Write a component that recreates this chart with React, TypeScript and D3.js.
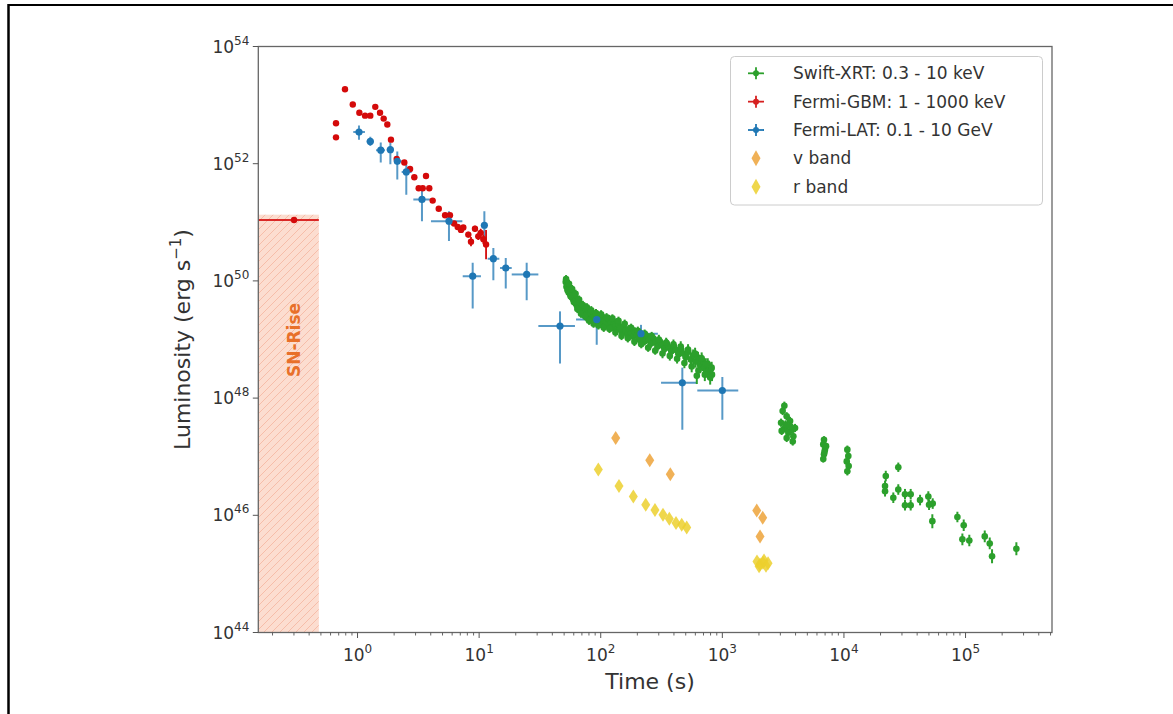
import React from "react";
import * as d3 from "d3";

// All values are log10: [log10 t (s), log10 L (erg/s), ...]

// Fermi-GBM 1 - 1000 keV : [logT, logL, dLogL]
const gbm: [number, number, number][] = [
  [-0.177, 52.69, 0.02], [-0.177, 52.45, 0.02], [-0.103, 53.27, 0.02], [-0.039, 53.01, 0.02],
  [0.015, 52.87, 0.02], [0.062, 52.82, 0.02], [0.105, 52.82, 0.02], [0.146, 52.97, 0.02],
  [0.185, 52.87, 0.02], [0.215, 52.77, 0.02], [0.245, 52.67, 0.02], [0.275, 52.41, 0.03],
  [0.322, 52.08, 0.03], [0.385, 52.02, 0.03], [0.432, 51.91, 0.03], [0.467, 51.77, 0.03],
  [0.563, 51.79, 0.03], [0.503, 51.58, 0.03], [0.536, 51.58, 0.03], [0.590, 51.58, 0.03],
  [0.618, 51.37, 0.03], [0.668, 51.23, 0.03], [0.720, 51.12, 0.03], [0.760, 51.12, 0.03],
  [0.794, 50.98, 0.04], [0.824, 50.92, 0.04], [0.851, 50.87, 0.05], [0.870, 50.91, 0.04],
  [0.911, 50.79, 0.05], [0.933, 50.67, 0.08], [0.966, 50.89, 0.05], [0.993, 50.76, 0.06],
  [1.013, 50.82, 0.07], [1.035, 50.71, 0.08], [1.057, 50.62, 0.25],
];
// GBM integrated point over the SN-rise window: [logT, logL, logT_lo, logT_hi]
const gbmRise: [number, number, number, number] = [-0.522, 51.04, -1.2, -0.318];

// Fermi-LAT 0.1 - 10 GeV : [logT, logL, logT_lo, logT_hi, logL_lo, logL_hi]
const lat: [number, number, number, number, number, number][] = [
  [0.012, 52.54, -0.035, 0.061, 52.41, 52.65],
  [0.105, 52.38, 0.075, 0.135, 52.30, 52.46],
  [0.191, 52.23, 0.152, 0.226, 52.02, 52.36],
  [0.270, 52.24, 0.240, 0.300, 51.99, 52.36],
  [0.327, 52.04, 0.300, 0.363, 51.73, 52.21],
  [0.401, 51.86, 0.363, 0.445, 51.47, 51.98],
  [0.530, 51.39, 0.459, 0.596, 51.02, 51.56],
  [0.752, 51.02, 0.604, 0.862, 50.68, 51.19],
  [1.043, 50.95, 1.020, 1.065, 50.62, 51.19],
  [0.947, 50.08, 0.865, 1.015, 49.53, 50.31],
  [1.117, 50.38, 1.070, 1.166, 50.01, 50.56],
  [1.219, 50.22, 1.172, 1.268, 49.87, 50.39],
  [1.391, 50.11, 1.268, 1.487, 49.67, 50.31],
  [1.665, 49.23, 1.487, 1.788, 48.59, 49.48],
  [1.967, 49.34, 1.797, 2.161, 48.91, 49.43],
  [2.331, 49.10, 2.170, 2.470, 48.95, 49.25],
  [2.671, 48.26, 2.496, 2.789, 47.46, 48.52],
  [3.000, 48.13, 2.794, 3.131, 47.63, 48.36],
];

// Swift-XRT 0.3 - 10 keV, early dense window : [logT, logL, dLogL]
const xrtEarly: [number, number, number][] = [
  [1.712, 49.98, 0.07], [1.718, 49.90, 0.07], [1.724, 49.94, 0.07], [1.730, 49.86, 0.07],
  [1.736, 49.80, 0.07], [1.742, 49.88, 0.07], [1.748, 49.78, 0.07], [1.755, 49.83, 0.07],
  [1.761, 49.72, 0.07], [1.768, 49.76, 0.07], [1.775, 49.68, 0.07], [1.782, 49.74, 0.07],
  [1.789, 49.63, 0.07], [1.796, 49.70, 0.07], [1.803, 49.58, 0.07], [1.811, 49.64, 0.07],
  [1.818, 49.55, 0.07], [1.826, 49.61, 0.07], [1.834, 49.50, 0.07], [1.842, 49.57, 0.07],
  [1.850, 49.46, 0.07], [1.858, 49.53, 0.07], [1.866, 49.43, 0.07], [1.874, 49.49, 0.07],
  [1.882, 49.38, 0.07], [1.891, 49.46, 0.07], [1.900, 49.40, 0.07], [1.909, 49.34, 0.07],
  [1.918, 49.44, 0.07], [1.927, 49.36, 0.07], [1.937, 49.31, 0.07], [1.946, 49.41, 0.07],
  [1.956, 49.33, 0.07], [1.966, 49.38, 0.07], [1.976, 49.28, 0.07], [1.987, 49.35, 0.07],
  [1.998, 49.30, 0.07], [2.009, 49.39, 0.08], [2.020, 49.26, 0.07], [2.032, 49.33, 0.07],
  [2.044, 49.29, 0.07], [2.056, 49.24, 0.07], [2.068, 49.34, 0.08], [2.080, 49.27, 0.07],
  [2.093, 49.21, 0.07], [2.106, 49.30, 0.07], [2.119, 49.22, 0.07], [2.132, 49.17, 0.07],
  [2.146, 49.26, 0.07], [2.160, 49.19, 0.07], [2.174, 49.13, 0.07], [2.188, 49.22, 0.07],
  [2.203, 49.15, 0.07], [2.218, 49.09, 0.07], [2.233, 49.18, 0.07], [2.248, 49.11, 0.07],
  [2.264, 49.05, 0.07], [2.280, 49.14, 0.07], [2.296, 49.07, 0.07], [2.312, 49.01, 0.07],
  [2.328, 49.10, 0.07], [2.345, 49.03, 0.07], [2.362, 48.97, 0.07], [2.379, 49.06, 0.07],
  [2.396, 48.99, 0.07], [2.414, 48.93, 0.07], [2.432, 49.02, 0.07], [2.450, 48.95, 0.07],
  [2.468, 48.88, 0.07], [2.486, 48.97, 0.07], [2.505, 48.90, 0.07], [2.524, 48.84, 0.07],
  [2.543, 48.93, 0.08], [2.562, 48.86, 0.08], [2.581, 48.80, 0.08], [2.600, 48.89, 0.08],
  [2.620, 48.82, 0.08], [2.640, 48.75, 0.08], [2.660, 48.84, 0.08], [2.680, 48.76, 0.09],
  [2.700, 48.70, 0.09], [2.720, 48.79, 0.09], [2.740, 48.66, 0.10], [2.760, 48.73, 0.10],
  [2.780, 48.62, 0.10], [2.800, 48.69, 0.10], [2.818, 48.56, 0.11], [2.834, 48.64, 0.10],
  [2.850, 48.51, 0.11], [2.864, 48.58, 0.10], [2.877, 48.46, 0.11], [2.889, 48.54, 0.10],
  [2.899, 48.43, 0.11], [2.908, 48.50, 0.10], [2.915, 48.40, 0.11],
  [1.715, 50.03, 0.07], [1.727, 49.84, 0.07], [1.739, 49.95, 0.07], [1.752, 49.74, 0.07],
  [1.765, 49.86, 0.07], [1.779, 49.64, 0.07], [1.793, 49.78, 0.07], [1.808, 49.52, 0.07],
  [1.822, 49.68, 0.07], [1.838, 49.44, 0.07], [1.853, 49.59, 0.07], [1.869, 49.40, 0.07],
  [1.886, 49.55, 0.07], [1.904, 49.32, 0.07], [1.922, 49.50, 0.07], [1.941, 49.27, 0.07],
  [1.961, 49.45, 0.07], [1.981, 49.24, 0.07], [2.003, 49.43, 0.07], [2.025, 49.20, 0.07],
  [2.048, 49.38, 0.07], [2.072, 49.18, 0.07], [2.096, 49.36, 0.07], [2.121, 49.12, 0.07],
  [2.146, 49.32, 0.07], [2.171, 49.06, 0.07], [2.197, 49.27, 0.07], [2.223, 49.02, 0.07],
  [2.250, 49.20, 0.07], [2.277, 48.96, 0.07], [2.305, 49.15, 0.07], [2.333, 48.92, 0.07],
  [2.361, 49.10, 0.07], [2.390, 48.86, 0.07], [2.419, 49.06, 0.07], [2.448, 48.81, 0.07],
  [2.478, 49.00, 0.08], [2.508, 48.76, 0.08], [2.538, 48.95, 0.08], [2.568, 48.72, 0.08],
  [2.598, 48.92, 0.08], [2.628, 48.67, 0.08], [2.658, 48.88, 0.09], [2.688, 48.60, 0.09],
  [2.718, 48.83, 0.09], [2.748, 48.54, 0.10], [2.776, 48.76, 0.10], [2.790, 48.38, 0.14],
  [2.804, 48.47, 0.11], [2.830, 48.68, 0.10], [2.856, 48.40, 0.11], [2.880, 48.58, 0.10],
  [2.900, 48.35, 0.12], [2.912, 48.52, 0.10],
];

// Swift-XRT later orbits : [logT, logL, dLogL]
const xrtLate: [number, number, number][] = [
  [3.510, 47.87, 0.07], [3.496, 47.78, 0.07], [3.529, 47.69, 0.07], [3.483, 47.58, 0.07],
  [3.557, 47.61, 0.07], [3.515, 47.49, 0.07], [3.570, 47.46, 0.07], [3.543, 47.41, 0.07],
  [3.584, 47.35, 0.07], [3.488, 47.44, 0.07], [3.598, 47.49, 0.07], [3.579, 47.26, 0.07],
  [3.529, 47.32, 0.07], [3.520, 47.55, 0.07], [3.560, 47.52, 0.07],
  [3.836, 47.29, 0.06], [3.830, 47.21, 0.06], [3.844, 47.12, 0.06], [3.836, 47.04, 0.06],
  [3.830, 46.96, 0.06], [3.853, 47.18, 0.06], [3.840, 47.08, 0.06],
  [4.028, 47.12, 0.07], [4.036, 47.01, 0.07], [4.023, 46.92, 0.07], [4.039, 46.84, 0.07],
  [4.028, 46.75, 0.07],
  [4.344, 46.67, 0.09], [4.338, 46.50, 0.09], [4.338, 46.41, 0.09], [4.447, 46.82, 0.08],
  [4.406, 46.30, 0.09], [4.447, 46.44, 0.09], [4.502, 46.36, 0.09], [4.502, 46.17, 0.09],
  [4.549, 46.36, 0.09], [4.549, 46.17, 0.09], [4.626, 46.26, 0.09], [4.694, 46.32, 0.09],
  [4.700, 46.18, 0.09], [4.730, 46.20, 0.09], [4.727, 45.90, 0.12], [4.933, 45.97, 0.09],
  [4.985, 45.83, 0.10], [4.974, 45.59, 0.10], [5.031, 45.57, 0.10], [5.158, 45.64, 0.10],
  [5.199, 45.52, 0.10], [5.218, 45.30, 0.12], [5.418, 45.43, 0.11],
];

// optical photometry : [logT, logL]
const vBand: [number, number][] = [
  [2.123, 47.32], [2.403, 46.94], [2.572, 46.70], [3.283, 46.08], [3.332, 45.96], [3.310, 45.64],
];
const rBand: [number, number][] = [
  [1.980, 46.78], [2.150, 46.50], [2.268, 46.32], [2.370, 46.18], [2.446, 46.09],
  [2.512, 46.01], [2.564, 45.94], [2.619, 45.87], [2.666, 45.84], [2.707, 45.79],
  [3.285, 45.21], [3.310, 45.16], [3.334, 45.19], [3.359, 45.14], [3.302, 45.13],
  [3.343, 45.23], [3.376, 45.18],
];

// SN-rise window: [logT_end, logL_top]
const snRise = { logTEnd: -0.318, logLTop: 51.13 };

const xDecades = [0, 1, 2, 3, 4, 5];
const yDecades = [44, 46, 48, 50, 52, 54];

const legendItems = [
  { label: "Swift-XRT: 0.3 - 10 keV", color: "#2ca02c", kind: "err" },
  { label: "Fermi-GBM: 1 - 1000 keV", color: "#d62020", kind: "err" },
  { label: "Fermi-LAT: 0.1 - 10 GeV", color: "#1f77b4", kind: "err" },
  { label: "v band", color: "#eda33a", kind: "dia" },
  { label: "r band", color: "#ecd02e", kind: "dia" },
];

const P = (v: number) => Math.pow(10, v);
const FONT = "DejaVu Sans, Verdana, sans-serif";

const left = 258.3, right = 1052, top = 46.5, bottom = 632.5;
const x = d3.scaleLog().domain([P(-0.816), P(5.711)]).range([left, right]);
const y = d3.scaleLog().domain([1e44, 1e54]).range([bottom, top]);
const X = (lt: number) => x(P(lt));
const Y = (ll: number) => y(P(ll));

const diamond = (cx: number, cy: number, w: number, h: number) =>
  `M${cx},${cy - h / 2}L${cx + w / 2},${cy}L${cx},${cy + h / 2}L${cx - w / 2},${cy}Z`;

export default function App() {
  const minorTicks: number[] = [];
  for (let d = -1; d <= 5; d++) {
    for (let k = 2; k <= 9; k++) {
      const v = k * Math.pow(10, d);
      if (v >= x.domain()[0] && v <= x.domain()[1]) minorTicks.push(v);
    }
  }
  const red = "#d40a0a";
  const blue = "#1f77b4";
  const green = "#2ca02c";
  const xrt = [...xrtEarly, ...xrtLate];

  return (
    <svg width={1173} height={714} style={{ position: "absolute", left: 0, top: 0, background: "#fff" }}
      fontFamily={FONT}>
      <defs>
        <clipPath id="plotArea">
          <rect x={left} y={top} width={right - left} height={bottom - top} />
        </clipPath>
        <pattern id="hatch" patternUnits="userSpaceOnUse" width={8} height={8}>
          <rect width={8} height={8} fill="#fcd9cb" />
          <path d="M-2,2L2,-2M0,8L8,0M6,10L10,6" stroke="#f4b29a" strokeWidth={0.9} />
        </pattern>
      </defs>

      {/* outer frame */}
      <line x1={8.5} y1={5} x2={1173} y2={5} stroke="#000" strokeWidth={2} />
      <line x1={8.5} y1={4} x2={8.5} y2={714} stroke="#000" strokeWidth={2.5} />

      <g clipPath="url(#plotArea)">
        {/* SN-rise shaded window */}
        <rect x={left} y={Y(snRise.logLTop)} width={X(snRise.logTEnd) - left}
          height={bottom - Y(snRise.logLTop)} fill="url(#hatch)" opacity={0.9} />
        <text transform={`translate(${X(-0.522) + 6},340) rotate(-90)`}
          textAnchor="middle" fontSize={17} fontWeight="bold" fill="#e8702a">SN-Rise</text>

        {/* GBM rise point */}
        <line x1={X(gbmRise[2])} x2={X(gbmRise[3])} y1={Y(gbmRise[1])} y2={Y(gbmRise[1])}
          stroke={red} strokeWidth={2} opacity={0.85} />
        <circle cx={X(gbmRise[0])} cy={Y(gbmRise[1])} r={3.2} fill={red} />

        {/* optical */}
        {vBand.map((d, i) => (
          <path key={"v" + i} d={diamond(X(d[0]), Y(d[1]), 9, 14)} fill="#eda33a" opacity={0.85} />
        ))}
        {rBand.map((d, i) => (
          <path key={"r" + i} d={diamond(X(d[0]), Y(d[1]), 9, 14)} fill="#ecd02e" opacity={0.85} />
        ))}

        {/* Fermi-LAT error bars below XRT */}
        {lat.map((d, i) => (
          <g key={"le" + i}>
            <line x1={X(d[0])} x2={X(d[0])} y1={Y(d[4])} y2={Y(d[5])}
              stroke={blue} strokeOpacity={0.75} strokeWidth={2} />
            <line x1={X(d[2])} x2={X(d[3])} y1={Y(d[1])} y2={Y(d[1])}
              stroke={blue} strokeOpacity={0.75} strokeWidth={2} />
          </g>
        ))}

        {/* Swift-XRT */}
        {xrt.map((d, i) => (
          <g key={"x" + i}>
            <line x1={X(d[0])} x2={X(d[0])} y1={Y(d[1] - d[2])} y2={Y(d[1] + d[2])}
              stroke={green} strokeWidth={2} />
            <line x1={X(d[0] - 0.012)} x2={X(d[0] + 0.012)} y1={Y(d[1])} y2={Y(d[1])}
              stroke={green} strokeWidth={2} />
            <circle cx={X(d[0])} cy={Y(d[1])} r={3.3} fill={green} />
          </g>
        ))}

        {/* Fermi-GBM */}
        {gbm.map((d, i) => (
          <g key={"g" + i}>
            <line x1={X(d[0])} x2={X(d[0])} y1={Y(d[1] - d[2])} y2={Y(d[1] + d[2])}
              stroke={red} strokeWidth={1.8} />
            <line x1={X(d[0] - 0.012)} x2={X(d[0] + 0.012)} y1={Y(d[1])} y2={Y(d[1])}
              stroke={red} strokeWidth={1.8} />
            <circle cx={X(d[0])} cy={Y(d[1])} r={3.2} fill={red} />
          </g>
        ))}

        {/* Fermi-LAT markers */}
        {lat.map((d, i) => (
          <circle key={"lm" + i} cx={X(d[0])} cy={Y(d[1])} r={3.6} fill={blue} />
        ))}
      </g>

      {/* axes frame */}
      <rect x={left} y={top} width={right - left} height={bottom - top} fill="none"
        stroke="#666" strokeWidth={1.3} />

      {/* x ticks */}
      {minorTicks.map((v, i) => (
        <line key={"mt" + i} x1={x(v)} x2={x(v)} y1={bottom} y2={bottom + 3} stroke="#555" strokeWidth={0.9} />
      ))}
      {xDecades.map((d) => (
        <g key={"xt" + d}>
          <line x1={x(P(d))} x2={x(P(d))} y1={bottom} y2={bottom + 5.5} stroke="#555" strokeWidth={1} />
          <text x={x(P(d))} y={bottom + 28} textAnchor="middle" fontSize={17} fill="#333">
            10<tspan dy={-8} fontSize={12}>{d}</tspan>
          </text>
        </g>
      ))}

      {/* y ticks */}
      {yDecades.map((d) => (
        <g key={"yt" + d}>
          <line x1={left - 5.5} x2={left} y1={y(P(d))} y2={y(P(d))} stroke="#555" strokeWidth={1} />
          <text x={left - 9} y={y(P(d)) + 6} textAnchor="end" fontSize={17} fill="#333">
            10<tspan dy={-8} fontSize={12}>{d}</tspan>
          </text>
        </g>
      ))}

      {/* axis labels */}
      <text x={650} y={689} textAnchor="middle" fontSize={22} fill="#333">Time (s)</text>
      <text transform={`translate(190,${(top + bottom) / 2}) rotate(-90)`} textAnchor="middle"
        fontSize={22} fill="#333">
        Luminosity (erg s<tspan dy={-9} fontSize={15}>−1</tspan><tspan dy={9}>)</tspan>
      </text>

      {/* legend */}
      <rect x={730.5} y={56.5} width={312} height={148.5} rx={4} fill="#fff" fillOpacity={0.85}
        stroke="#cccccc" strokeWidth={1} />
      {legendItems.map((it, i) => {
        const cy = 73.3 + i * 28.35;
        const cx = 756;
        return (
          <g key={"lg" + i}>
            {it.kind === "err" ? (
              <g>
                <line x1={cx - 8} x2={cx + 8} y1={cy} y2={cy} stroke={it.color} strokeWidth={1.8} />
                <line x1={cx} x2={cx} y1={cy - 6} y2={cy + 6} stroke={it.color} strokeWidth={1.8} />
                <circle cx={cx} cy={cy} r={3} fill={it.color} />
              </g>
            ) : (
              <path d={diamond(cx, cy, 9, 16)} fill={it.color} opacity={0.85} />
            )}
            <text x={793} y={cy + 6} fontSize={17} fill="#333">{it.label}</text>
          </g>
        );
      })}
    </svg>
  );
}
